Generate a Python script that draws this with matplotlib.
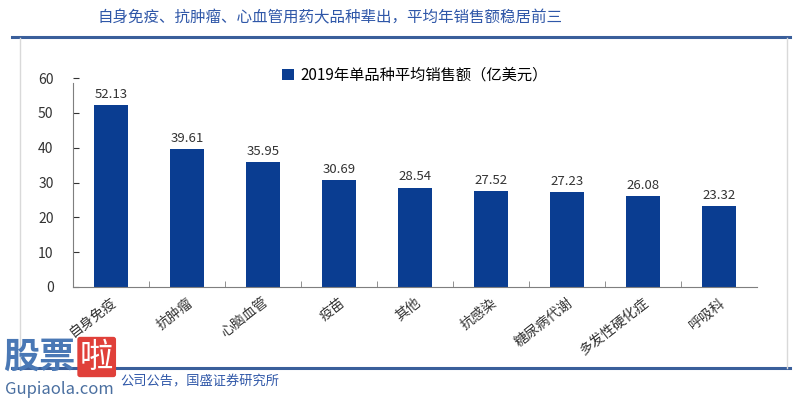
import matplotlib.pyplot as plt
import numpy as np
from matplotlib.lines import Line2D

plt.rcParams['font.family'] = ['Noto Sans CJK SC', 'DejaVu Sans']

categories = ['自身免疫', '抗肿瘤', '心脑血管', '疫苗', '其他', '抗感染', '糖尿病代谢', '多发性硬化症', '呼吸科']
sales = [52.13, 39.61, 35.95, 30.69, 28.54, 27.52, 27.23, 26.08, 23.32]
series_name = '2019年单品种平均销售额（亿美元）'
title = '自身免疫、抗肿瘤、心血管用药大品种辈出，平均年销售额稳居前三'
source = '公司公告，国盛证券研究所'

bar_color = '#0a3d91'
line_color = '#3a5f9b'

fig = plt.figure(figsize=(8, 3.99), dpi=100)

# frame lines and box
fig.add_artist(Line2D([0.015, 0.988], [1 - 37/399, 1 - 37/399], color=line_color, lw=2.2))
fig.add_artist(Line2D([0.015, 0.988], [1 - 368/399, 1 - 368/399], color=line_color, lw=2.2))
fig.add_artist(Line2D([20/800, 20/800], [1 - 368/399, 1 - 38/399], color='#d9d9d9', lw=1))
fig.add_artist(Line2D([787/800, 787/800], [1 - 368/399, 1 - 38/399], color='#d9d9d9', lw=1))

fig.text(97/800, 1 - 18/399, title, fontsize=11.2, style='italic', color='#2f57a8', va='center')
fig.text(120/800, 1 - 381/399, source, fontsize=9.5, style='italic', color='#2f57a8', va='center')

# watermark
fig.text(3/800, 1 - 357/399, '股票', fontsize=26, color='#4a78b5', va='center', fontweight='bold')
fig.text(80/800, 1 - 357/399, '啦', fontsize=24, color='white', va='center',
         bbox=dict(boxstyle='round,pad=0.08', fc='#e0403a', ec='none'))
fig.text(5/800, 1 - 390/399, 'Gupiaola.com', fontsize=12, color='#4a6fa0', va='center')

ax = fig.add_axes([73/800, 1 - 287/399, 684/800, 209/399])
x = np.arange(len(categories))
ax.bar(x, sales, width=0.45, color=bar_color, label=series_name)
for xi, v in zip(x, sales):
    ax.text(xi, v + 1.2, f'{v:.2f}', ha='center', va='bottom', fontsize=9.5, color='#333333')

ax.set_xlim(-0.5, len(categories) - 0.5)
ax.set_ylim(0, 60)
ax.set_yticks(np.arange(0, 61, 10))
ax.tick_params(axis='y', direction='in', length=4, labelsize=10, colors='#333333', pad=14)
ax.set_xticks(x)
ax.set_xticklabels(categories, rotation=38, ha='right', rotation_mode='anchor',
                   fontsize=10, color='#333333')
ax.tick_params(axis='x', length=0, pad=6)
ax.set_xticks(np.arange(0.5, len(categories) - 0.5, 1), minor=True)
ax.tick_params(axis='x', which='minor', direction='in', length=4, color='#7f7f7f')
for s in ['top', 'right']:
    ax.spines[s].set_visible(False)
ax.spines['left'].set_color('#7f7f7f')
ax.spines['bottom'].set_color('#7f7f7f')
ax.spines['left'].set_bounds(0, 58.5)

ax.legend(loc='upper center', bbox_to_anchor=(0.5, 1.12), frameon=False,
          fontsize=11, handlelength=0.8, handleheight=0.8, handletextpad=0.4)

plt.savefig('out.png', dpi=100)
